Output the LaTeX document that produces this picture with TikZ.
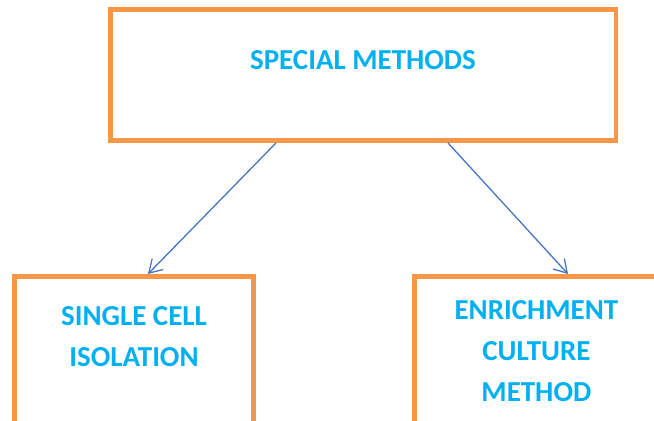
\documentclass[tikz,border=0pt]{standalone}
\usepackage{fontspec}
\setmainfont{Carlito}
\usepackage{tikz}
\usetikzlibrary{arrows.meta}
\usepackage{xcolor}
\definecolor{boxorange}{RGB}{247,150,70}
\definecolor{txtblue}{RGB}{0,176,240}
\definecolor{arrblue}{RGB}{68,114,196}
\tikzset{
  methodbox/.style={draw=boxorange, line width=3.5pt, rectangle, inner sep=0pt},
  methodtxt/.style={text=txtblue, inner sep=0pt, align=center,
    font=\fontsize{20.6}{29.2}\selectfont\bfseries},
  arr/.style={draw=arrblue, line width=0.9pt,
    -{Straight Barb[length=9pt,width=11pt,line width=0.9pt]}}
}

\begin{document}
\begin{tikzpicture}
\useasboundingbox (0,0) rectangle (16.35,10.5);
\clip (0,0) rectangle (16.35,10.5);
\node[methodbox, minimum width=12.64cm, minimum height=3.275cm] (special) at (9.08,8.625) {};
\node[methodtxt] (specialtxt) at (9.075,8.99) {SPECIAL METHODS};
\node[methodbox, minimum width=5.975cm, minimum height=4.09cm] (single) at (3.35,1.54) {};
\node[methodtxt] (singletxt) at (3.35,2.09) {SINGLE CELL\\ISOLATION};
\node[methodbox, minimum width=6.44cm, minimum height=4.09cm] (enrich) at (13.58,1.54) {};
\node[methodtxt] (enrichtxt) at (13.41,1.725) {ENRICHMENT\\CULTURE\\METHOD};
% connectors
\coordinate (singletop) at (3.7,3.65);
\coordinate (enrichtop) at (14.2,3.65);
\draw[arr] (6.9,0 |- special.south) -- (singletop);
\draw[arr] (11.2,0 |- special.south) -- (enrichtop);
\end{tikzpicture}
\end{document}
